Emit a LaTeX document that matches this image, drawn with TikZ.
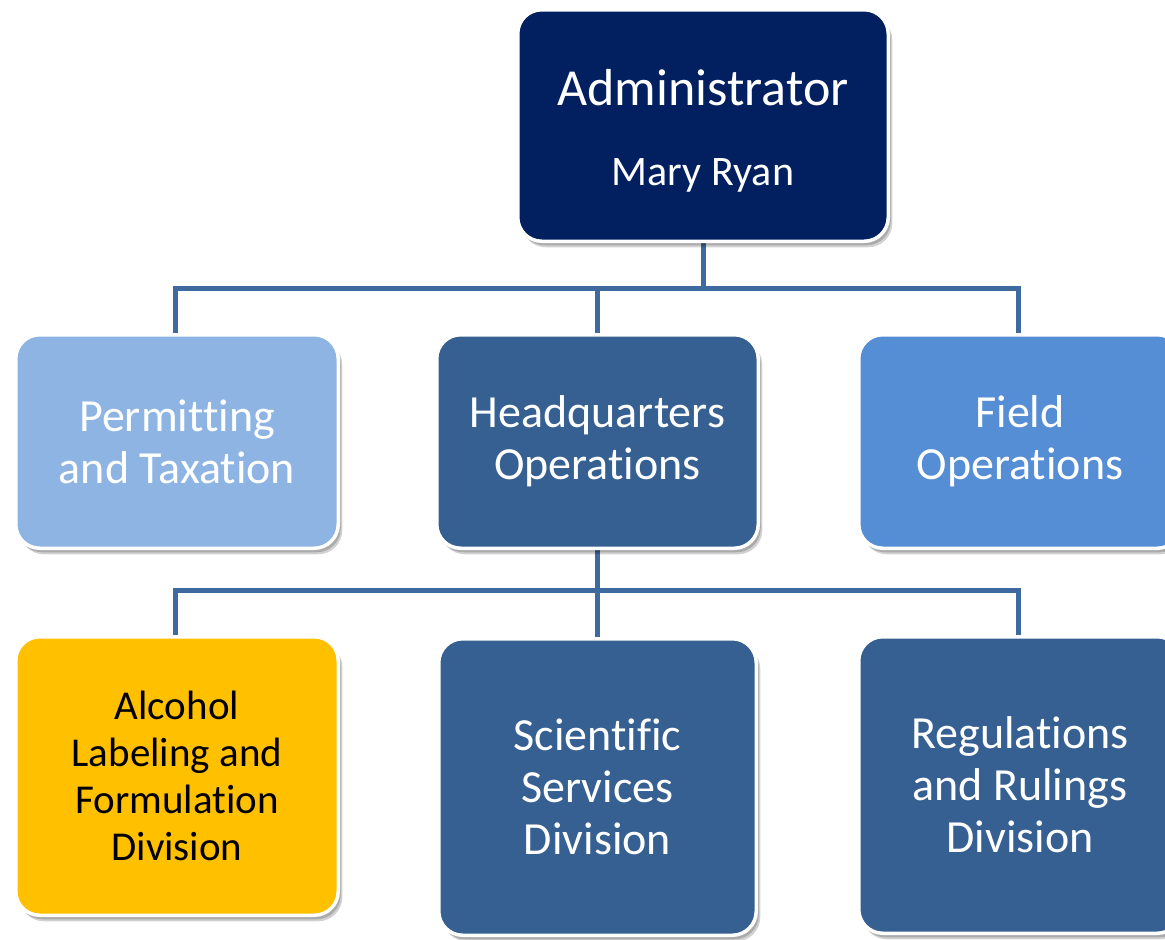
\documentclass[tikz,border=0pt]{standalone}
\usepackage{fontspec}
\setmainfont[Ligatures={NoCommon}]{Carlito}
\usetikzlibrary{shadows,backgrounds}
\definecolor{navy}{HTML}{02205F}
\definecolor{lightblue}{HTML}{8EB4E3}
\definecolor{midblue}{HTML}{376092}
\definecolor{fieldblue}{HTML}{558ED5}
\definecolor{gold}{HTML}{FFC000}
\definecolor{connblue}{HTML}{3F6A9F}
\tikzset{
  orgbox/.style={draw=white, line width=3.5pt, rounded corners=24pt,
    align=center, inner sep=0pt,
    drop shadow={shadow xshift=4pt, shadow yshift=-6pt, fill=black, opacity=0.18},
    drop shadow={shadow xshift=2.5pt, shadow yshift=-4pt, fill=black, opacity=0.18},
    font=\fontsize{46}{52}\selectfont, text=white},
  conn/.style={draw=connblue, line width=5pt}
}
\begin{document}
\begin{tikzpicture}[x=1pt, y=-1pt]
\clip (0,0) rectangle (1165,940);
% top
\node[orgbox, fill=navy, minimum width=370.5pt, minimum height=231.5pt] (admin) at (703,125.5) {};
\node[anchor=base, text=white, font=\fontsize{52}{60}\selectfont] (admintitle) at (703,105) {Administrator};
\node[anchor=base, text=white, font=\fontsize{42}{50}\selectfont] (adminname) at (703,185) {Mary Ryan};
% row 2
\node[orgbox, fill=lightblue, minimum width=322.5pt, minimum height=213.5pt] (perm) at (177,441.5) {Permitting\\and Taxation};
\node[orgbox, fill=midblue, minimum width=321.5pt, minimum height=213.5pt] (hq) at (597.5,441.5) {Headquarters\\Operations};
\node[orgbox, fill=fieldblue, minimum width=322.5pt, minimum height=213.5pt] (field) at (1020,441.5) {Field\\Operations};
% row 3
\node[orgbox, fill=gold, text=black, font=\fontsize{41}{47}\selectfont, minimum width=322.5pt, minimum height=278.5pt] (alc) at (177,776) {Alcohol\\Labeling and\\Formulation\\Division};
\node[orgbox, fill=midblue, minimum width=317.5pt, minimum height=296.5pt] (sci) at (597.5,787) {Scientific\\Services\\Division};
\node[orgbox, fill=midblue, minimum width=322.5pt, minimum height=296.5pt] (reg) at (1020,785) {Regulations\\and Rulings\\Division};
% connectors
\coordinate (bus1) at (703,288);
\coordinate (bus2) at (597,590);
\begin{scope}[on background layer]
\fill[white] (0,0) rectangle (1165,940);
\draw[conn] (admin.south) -- (bus1);
\draw[conn] (perm.north -| 175,0) |- (bus1);
\draw[conn] (field.north -| 1018,0) |- (bus1);
\draw[conn] (hq.north -| 597,0) -- (bus1 -| 597,0);
\draw[conn] (hq.south -| 597,0) -- (sci.north -| 597,0);
\draw[conn] (alc.north -| 175,0) |- (bus2) -| (reg.north -| 1018,0);
\end{scope}
\end{tikzpicture}
\end{document}
